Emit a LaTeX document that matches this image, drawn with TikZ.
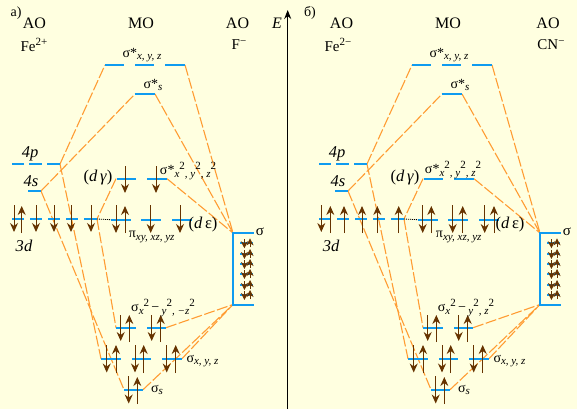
\documentclass[tikz,border=0pt]{standalone}
\usepackage{fontspec}
\setmainfont{Liberation Serif}
\usetikzlibrary{arrows.meta}
\definecolor{bgc}{HTML}{FFFFE0}
\definecolor{lvlc}{HTML}{0F9BF0}
\definecolor{dashc}{HTML}{FF9C33}
\definecolor{elc}{HTML}{663300}
\newcommand{\fsz}[1]{\fontsize{#1}{#1}\selectfont}
\newcommand{\subt}[1]{\raisebox{-2.5pt}{\fsz{11}\itshape #1}}
\newcommand{\supt}[1]{\raisebox{5.5pt}{\fsz{11}#1}}
\newcommand{\lv}[4]{% name, x1, x2, y
  \coordinate (#1L) at (#2,#4); \coordinate (#1R) at (#3,#4);
  \draw[lvl] (#1L) -- (#1R);}
\newcommand{\dn}[3]{\draw[eldown] (#1,#2) -- (#1,#3);}
\newcommand{\up}[3]{\draw[elup] (#1,#3) -- (#1,#2);}
\newcommand{\panel}{%
  \coordinate (sig) at (233,233); \coordinate (sib) at (233,304.5);
  \coordinate (a1L) at (105,65); \coordinate (a3R) at (185,65);
  \coordinate (asL) at (135,94); \coordinate (asR) at (155,94);
  \coordinate (p3R) at (60,164); \coordinate (s4R) at (41,191);
  \coordinate (gL) at (116,178.7); \coordinate (g2R) at (167,178.7);
  \coordinate (d5R) at (97,219);
  \coordinate (q1L) at (116,327.7); \coordinate (q2R) at (166,327.7);
  \coordinate (b1L) at (101,358.7); \coordinate (b3R) at (182,358.7);
  \coordinate (bsL) at (124,389.7); \coordinate (bsR) at (143,389.7);
  \draw[dashl] (p3R) -- (a1L);
  \draw[dashl] (s4R) -- (asL);
  \draw[dashl] (a3R) -- (sig);
  \draw[dashl] (asR) -- (sig);
  \draw[dashl] (g2R) -- (sig);
  \draw[dashl] (gL) -- (d5R);
  \draw[dashl] (s4R) -- (bsL);
  \draw[dashl] (p3R) -- (b1L);
  \draw[dashl] (d5R) -- (q1L);
  \draw[dashl] (q2R) -- (sib);
  \draw[dashl] (b3R) -- (sib);
  \draw[dashl] (bsR) -- (sib);
  \lv{a1}{105}{124}{65}\lv{a2}{135}{154}{65}\lv{a3}{165}{185}{65}
  \lv{as}{135}{155}{94}
  \lv{p1}{12}{24}{164}\lv{p2}{29}{42}{164}\lv{p3}{47}{60}{164}
  \lv{s4}{28}{41}{191}
  \lv{g1}{116.5}{136}{178.7}\lv{g2}{147}{167}{178.7}
  \lv{d1}{12}{24}{219}\lv{d2}{30}{42}{219}\lv{d3}{48}{60}{219}\lv{d4}{66}{78}{219}\lv{d5}{84}{97}{219}
  \lv{e1}{111}{131}{219.7}\lv{e2}{141}{161}{219.7}\lv{e3}{172}{192}{219.7}
  \draw[dotl] (d5R) -- (e1L);
  \lv{q1}{116}{136}{327.7}\lv{q2}{147}{166}{327.7}
  \lv{b1}{101}{121}{358.7}\lv{b2}{132}{151}{358.7}\lv{b3}{162}{182}{358.7}
  \lv{bs}{124}{143}{389.7}
  \coordinate (sigR) at (253,233); \coordinate (sibR) at (253,304.5);
  \draw[lvl,line cap=rect] (sigR) -- (sig) -- (sib) -- (sibR);
  \foreach \yy/\nn in {243.3/1,254/2,264/3,274/4,285/5,295/6}{
    \lv{m\nn}{240}{253}{\yy}
    \draw[smalldown] (244.4,\yy-4) -- (244.4,\yy+5);
    \draw[smallup] (250,\yy+4) -- (250,\yy-5);
  }
  % bonding electrons
  \foreach \xa/\xb in {120.7/129.3,151.7/160.7}{\dn{\xa}{315}{341}\up{\xb}{315}{342}}
  \foreach \xa/\xb in {106.7/116,135/143.7,166.7/175.7}{\dn{\xa}{345}{372.5}\up{\xb}{345}{373}}
  \dn{128.7}{376}{403.5}\up{137.3}{377}{404}
  % common labels
  \node[tx,font=\fsz{16}] (aol) at (34.5,23) {AO};
  \node[tx,font=\fsz{16}] (mol) at (141,23) {MO};
  \node[tx,font=\fsz{14}] (l1) at (142,55) {σ*\subt{x, y, z}};
  \node[tx,font=\fsz{14}] (l2) at (153,85) {σ*\subt{s}};
  \node[tx,font=\fsz{16.5}\itshape] (l3) at (30,153.5) {4p};
  \node[tx,font=\fsz{16.5}\itshape] (l4) at (31,181.5) {4s};
  \node[tx,font=\fsz{16.5}] (l5) at (98,177.5) {(\textit{d}\,\textit{γ})};
  \node[tx,font=\fsz{16.5}] (l6) at (203,225) {(\textit{d}\,ε)};
  \node[tx,font=\fsz{14}] (l7) at (151.7,237) {π\subt{xy, xz, yz}};
  \node[tx,font=\fsz{16.5}\itshape] (l8) at (24,246) {3d};
  \node[tx,font=\fsz{15}] (l9) at (260,232) {σ};
  \node[tx,font=\fsz{14}] (l10) at (202.5,361) {σ\subt{x, y, z}};
  \node[tx,font=\fsz{14}] (l11) at (157,390) {σ\subt{s}};
}
\begin{document}
\begin{tikzpicture}[x=1pt,y=-1pt,
  lvl/.style={draw=lvlc,line width=2pt},
  dashl/.style={draw=dashc,line width=1.1pt,dash pattern=on 11pt off 2.5pt},
  dotl/.style={draw=black,line width=0.8pt,dash pattern=on 1pt off 1pt},
  eldown/.style={draw=elc,line width=1pt,-{Stealth[length=9pt,width=8pt,inset=3pt]}},
  elup/.style={eldown},
  smalldown/.style={draw=elc,line width=0.9pt,-{Stealth[length=7pt,width=7pt,inset=2pt]}},
  smallup/.style={smalldown},
  tx/.style={inner sep=0pt,text=black}]
\path[use as bounding box,fill=bgc] (0,0) rectangle (577,409);
\begin{scope}[name prefix=A-]
  \panel
  \node[tx,font=\fsz{14}] (tag) at (16,13) {а)};
  \node[tx,font=\fsz{15}] (ion) at (34,45) {Fe\supt{2+}};
  \node[tx,font=\fsz{16}] (aor) at (237.5,23) {AO};
  \node[tx,font=\fsz{15}] (lig) at (239,45) {F\supt{−}};
  \node[tx,font=\fsz{14}] (g) at (188,171) {σ*\subt{x}\supt{2}\subt{, y}\supt{2}\subt{, z}\supt{2}};
  \node[tx,font=\fsz{14}] (q) at (163,308) {σ\subt{x}\supt{2}\,−\,\subt{y}\supt{2}\subt{, −z}\supt{2}};
  \dn{14}{205}{232}\up{21.7}{206}{233}
  \dn{36}{205}{232}\dn{54}{205}{232}\dn{71}{205}{232}\dn{91}{205}{232}
  \dn{116}{205}{233}\up{125}{206}{233}
  \dn{150.7}{205}{233}\dn{180}{205}{233}
  \dn{125}{166}{193}\dn{156}{166}{193}
\end{scope}
\begin{scope}[xshift=307pt,name prefix=B-]
  \panel
  \node[tx,font=\fsz{14}] (tag) at (3,13) {б)};
  \node[tx,font=\fsz{15}] (ion) at (31,45) {Fe\supt{2−}};
  \node[tx,font=\fsz{16}] (aor) at (241,23) {AO};
  \node[tx,font=\fsz{15}] (lig) at (244,45) {CN\supt{−}};
  \node[tx,font=\fsz{14}] (g) at (146,170) {σ*\subt{x}\supt{2}\subt{, y}\supt{2}\subt{, z}\supt{2}};
  \node[tx,font=\fsz{14}] (q) at (159,308) {σ\subt{x}\supt{2}\,−\,\subt{y}\supt{2}\subt{, z}\supt{2}};
  \dn{14.3}{205}{232}\up{23.3}{206}{233}
  \up{37}{206}{233}\up{55}{206}{233}\up{70.3}{206}{233}\up{91.7}{206}{233}
  \dn{115.7}{205}{233}\up{124.3}{206}{233}
  \dn{145.7}{205}{233}\up{155.7}{206}{233}
  \dn{177.7}{205}{233}\up{187}{206}{233}
\end{scope}
\coordinate (axb) at (287.7,409);
\coordinate (axt) at (287.7,10);
\draw[black,line width=1.2pt,-{Stealth[length=9pt,width=7pt]}] (axb) -- (axt);
\node[tx,font=\fsz{16}\itshape] (E) at (277,23) {E};
\end{tikzpicture}
\end{document}
